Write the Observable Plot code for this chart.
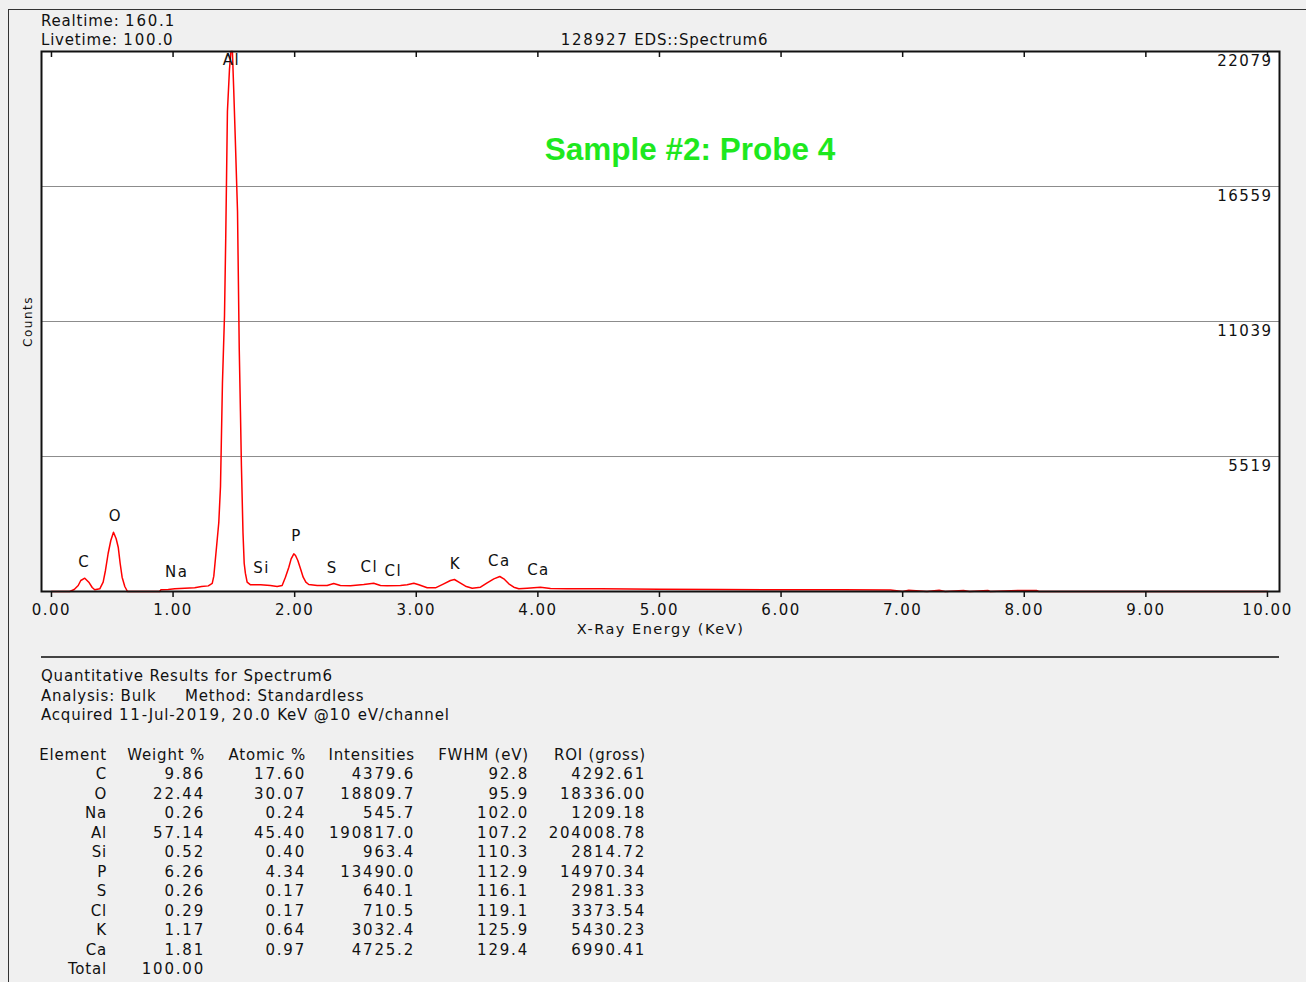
<!DOCTYPE html>
<html><head><meta charset="utf-8">
<script src="https://cdn.jsdelivr.net/npm/d3@7"></script>
<script src="https://cdn.jsdelivr.net/npm/@observablehq/plot@0.6"></script>
<style>
html,body{margin:0;padding:0;background:#f0f0f0;overflow:hidden;}
#page{position:relative;width:1306px;height:982px;overflow:hidden;background:#f0f0f0;font-family:"DejaVu Sans",sans-serif;color:#111;font-size:15px;}
#frame{position:absolute;left:8px;top:9px;width:1300px;height:980px;border-left:1px solid #333;border-top:1px solid #333;}
.t{position:absolute;white-space:pre;line-height:1;letter-spacing:0.8px;}
.n{letter-spacing:1.8px;}
#chart{position:absolute;left:0;top:0;}
#sep{position:absolute;left:41px;top:656px;width:1238px;height:2px;background:#444;}
#title{position:absolute;left:690px;top:150px;transform:translate(-50%,-50%);font-family:"Liberation Sans",Arial,sans-serif;font-weight:bold;font-size:31.5px;color:#1ee81e;white-space:pre;line-height:1;}
#chart svg text{letter-spacing:1.5px;}
</style></head>
<body><div id="page"><div id="frame"></div><div id="chart"></div><div id="sep"></div><div id="title">Sample #2: Probe 4</div></div>
<script>
// ---- spectrum (energy keV, counts) ----
const energy = [0.00,0.15,0.187,0.220,0.241,0.274,0.307,0.335,0.356,0.397,0.425,0.444,0.466,0.488,0.510,0.532,0.549,0.565,0.581,0.603,0.625,
0.890,0.899,0.960,1.014,1.096,1.178,1.234,1.290,1.322,1.335,1.357,1.376,1.390,1.406,1.423,1.433,1.447,1.464,1.476,1.488,1.499,1.513,1.530,1.544,1.554,1.562,1.575,1.585,1.595,1.609,1.637,
1.720,1.800,1.856,1.897,1.924,1.952,1.971,1.993,2.007,2.026,2.048,2.070,2.092,2.116,2.185,2.267,2.294,2.321,2.376,2.459,2.568,2.650,2.706,2.761,2.870,2.925,2.980,3.021,3.090,3.158,
3.226,3.281,3.314,3.350,3.405,3.460,3.528,3.583,3.638,3.687,3.720,3.761,3.802,3.843,3.912,4.021,4.104,4.241,4.520,5.000,5.500,6.000,6.500,6.900,7.000,7.050,7.200,7.300,7.350,7.500,7.550,7.700,7.720,7.950,8.100,8.120,10.000];
const counts = [0,0,82,245,450,544,380,164,70,110,380,859,1554,2085,2425,2155,1811,1145,585,204,0,
0,70,82,110,135,151,204,230,330,626,1799,2821,4293,8505,11286,14434,19627,21361,22079,22079,20486,18294,15538,9977,7360,5152,2400,1145,740,380,274,
274,245,204,245,586,994,1336,1541,1472,1268,928,586,382,286,245,245,286,327,245,232,286,340,245,232,250,274,340,274,151,151,
314,450,490,382,217,135,176,355,518,613,518,314,176,110,135,176,120,115,110,90,80,75,70,60,0,55,0,50,0,45,0,45,0,40,40,0,0];

// ---- peak labels ----
const peakElements = ["C","O","Na","Al","Si","P","S","Cl","Cl","K","Ca","Ca"];
const peakEnergy   = [0.27,0.526,1.03,1.48,1.727,2.015,2.31,2.615,2.812,3.322,3.684,4.005];
const peakLabelAt  = [1186,3067,777,21712,940,2249,940,981,818,1104,1227,859];

// ---- axes ----
const xTicks = [0,1,2,3,4,5,6,7,8,9,10];
const yTicks = [5519,11039,16559,22079];

// ---- header text ----
const realtime = "Realtime: 160.1";
const livetime = "Livetime: 100.0";
const spectrumTitle = "128927 EDS::Spectrum6";

// ---- quantitative results ----
const resultLines = ["Quantitative Results for Spectrum6","Analysis: Bulk","Method: Standardless","Acquired 11-Jul-2019, 20.0 KeV @10 eV/channel"];
const tableHeaders = ["Element","Weight %","Atomic %","Intensities","FWHM (eV)","ROI (gross)"];
const elements   = ["C","O","Na","Al","Si","P","S","Cl","K","Ca"];
const weightPct  = [9.86,22.44,0.26,57.14,0.52,6.26,0.26,0.29,1.17,1.81];
const atomicPct  = [17.60,30.07,0.24,45.40,0.40,4.34,0.17,0.17,0.64,0.97];
const intensities= [4379.6,18809.7,545.7,190817.0,963.4,13490.0,640.1,710.5,3032.4,4725.2];
const fwhm       = [92.8,95.9,102.0,107.2,110.3,112.9,116.1,119.1,125.9,129.4];
const roi        = [4292.61,18336.00,1209.18,204008.78,2814.72,14970.34,2981.33,3373.54,5430.23,6990.41];
const totalWeight = 100.00;

const page = document.getElementById("page");
function addText(str, x, y, anchor, cls) {
  const d = document.createElement("div");
  d.className = "t" + (cls ? " " + cls : "");
  // digits are drawn a little wider, as in the reference font
  str.split(/(\d+)/).forEach(part => {
    if (!part) return;
    const s = document.createElement("span");
    if (/^\d+$/.test(part)) s.className = "n";
    s.textContent = part;
    d.appendChild(s);
  });
  d.style.left = x + "px";
  d.style.top = y + "px";
  const tx = anchor === "end" ? "-100%" : anchor === "middle" ? "-50%" : "0";
  d.style.transform = `translate(${tx},-50%)`;
  page.appendChild(d);
}

const spectrum = energy.map((e, i) => ({e, c: counts[i]}));
const peaks = peakElements.map((el, i) => ({el, e: peakEnergy[i], c: peakLabelAt[i]}));

const chart = Plot.plot({
  width: 1306, height: 650,
  marginLeft: 41, marginRight: 27, marginTop: 51, marginBottom: 59,
  x: {domain: [-0.082, 10.099]},
  y: {domain: [0, 22079], axis: null},
  style: {background: "transparent", fontFamily: "DejaVu Sans", fontSize: "15px", color: "#111", overflow: "visible"},
  marks: [
    Plot.frame({fill: "white"}),
    Plot.gridY(yTicks, {stroke: "#8c8c8c", strokeOpacity: 1, strokeWidth: 1}),
    Plot.line(spectrum, {x: "e", y: "c", stroke: "#ff0000", strokeWidth: 1.5}),
    Plot.text(peaks, {x: "e", y: "c", text: "el", fill: "#111"}),
    Plot.text(yTicks, {y: d => d, text: d => String(d), frameAnchor: "right", textAnchor: "end", dx: -7, dy: 10, fill: "#111"}),
    Plot.tickX(xTicks, {x: d => d, insetBottom: 534, stroke: "#111", strokeWidth: 1.5}),
    Plot.axisX(xTicks, {tickSize: 6, tickPadding: 7, tickFormat: d => d.toFixed(2), label: null, fill: "#111", stroke: "#111", strokeWidth: 1.5}),
    Plot.text(["X-Ray Energy (KeV)"], {text: d => d, frameAnchor: "bottom", dy: 42, fontSize: 14.5, fill: "#111"}),
    Plot.text(["Counts"], {text: d => d, frameAnchor: "left", textAnchor: "middle", rotate: -90, dx: -13, fontSize: 12, fill: "#111"}),
    Plot.frame({stroke: "#111", strokeWidth: 2})
  ]
});
document.getElementById("chart").appendChild(chart);

// header
addText(realtime, 41, 21, "start");
addText(livetime, 41, 40, "start");
addText(spectrumTitle, 665, 40, "middle");

// results text
addText(resultLines[0], 41, 676, "start");
addText(resultLines[1], 41, 696, "start");
addText(resultLines[2], 185, 696, "start");
addText(resultLines[3], 41, 715, "start");

// table
const colRight = [107, 205, 306, 415, 529, 646];
const headerY = 755, rowY0 = 774, rowStep = 19.5;
tableHeaders.forEach((h, j) => addText(h, colRight[j], headerY, "end"));
elements.forEach((el, i) => {
  const y = rowY0 + i * rowStep;
  addText(el, colRight[0], y, "end");
  addText(weightPct[i].toFixed(2), colRight[1], y, "end", "n");
  addText(atomicPct[i].toFixed(2), colRight[2], y, "end", "n");
  addText(intensities[i].toFixed(1), colRight[3], y, "end", "n");
  addText(fwhm[i].toFixed(1), colRight[4], y, "end", "n");
  addText(roi[i].toFixed(2), colRight[5], y, "end", "n");
});
const ty = rowY0 + elements.length * rowStep;
addText("Total", colRight[0], ty, "end");
addText(totalWeight.toFixed(2), colRight[1], ty, "end", "n");
</script>
</body></html>
